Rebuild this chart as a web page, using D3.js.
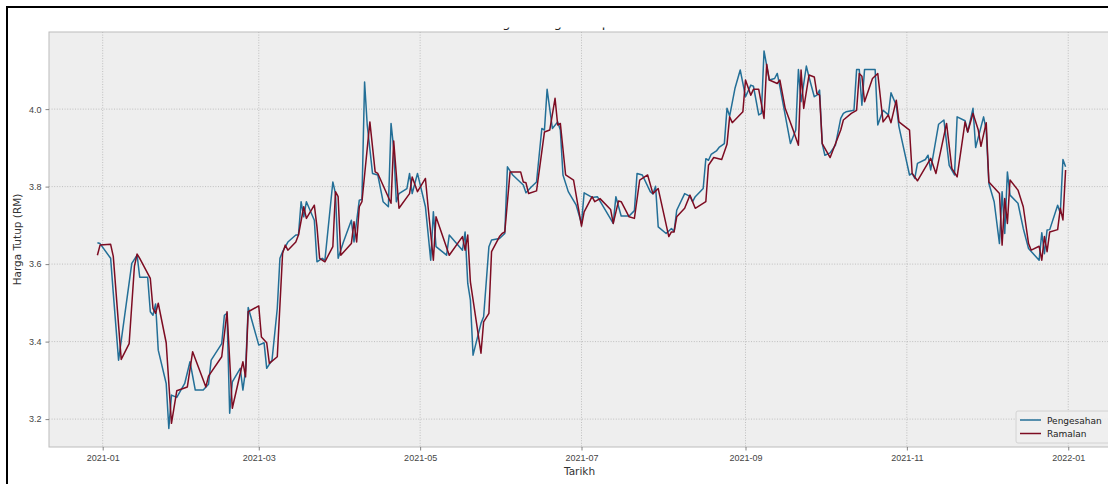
<!DOCTYPE html>
<html>
<head>
<meta charset="utf-8">
<script src="https://cdn.jsdelivr.net/npm/d3@7"></script>
<style>
  body { margin: 0; background: #fff; }
  svg { display: block; font-family: "DejaVu Sans", sans-serif; }
  .grid line { stroke: #b2b2b2; stroke-dasharray: 1,1.6; stroke-width: 0.8; }
  .tick text { fill: #444; font-size: 9px; }
</style>
</head>
<body>
<svg width="1108" height="484"></svg>
<script>
// ------------------- DATA -------------------
// day = days after 2021-01-01, value = harga tutup (RM)
var pengesahan = [
  [-2,3.655],[-1,3.653],[3,3.615],[4,3.525],[6,3.352],[11,3.602],[13,3.623],[14,3.566],[17,3.566],[18,3.477],
  [19,3.468],[20,3.497],[21,3.378],[24,3.292],[25,3.176],[26,3.262],[28,3.256],[31,3.292],[33,3.348],[35,3.275],
  [38,3.275],[40,3.290],[41,3.352],[45,3.395],[46,3.468],[47,3.473],[48,3.215],[49,3.296],[52,3.331],[53,3.275],
  [54,3.326],[55,3.488],[56,3.464],[59,3.391],[61,3.397],[62,3.331],[64,3.352],[66,3.486],[67,3.615],[68,3.632],
  [70,3.657],[73,3.675],[74,3.675],[75,3.761],[76,3.722],[77,3.761],[80,3.713],[81,3.606],[83,3.615],[84,3.610],
  [87,3.812],[88,3.782],[89,3.615],[91,3.657],[94,3.713],[95,3.657],[97,3.765],[98,3.767],[99,4.070],[100,3.959],
  [102,3.834],[104,3.830],[106,3.761],[108,3.748],[109,3.963],[110,3.899],[111,3.761],[112,3.782],[115,3.795],[116,3.834],
  [117,3.782],[119,3.834],[122,3.748],[124,3.610],[125,3.735],[126,3.645],[130,3.623],[131,3.675],[136,3.636],[137,3.683],
  [138,3.550],[139,3.507],[140,3.365],[143,3.447],[144,3.464],[146,3.645],[147,3.662],[150,3.666],[152,3.679],[153,3.851],
  [155,3.830],[159,3.804],[160,3.784],[162,3.799],[164,3.812],[166,3.950],[167,3.946],[168,4.051],[170,3.950],[172,3.967],
  [173,3.946],[174,3.830],[176,3.787],[179,3.752],[181,3.705],[182,3.784],[185,3.772],[187,3.774],[193,3.705],[194,3.774],
  [196,3.724],[199,3.724],[201,3.738],[202,3.834],[204,3.830],[207,3.787],[208,3.781],[209,3.801],[210,3.696],[213,3.679],
  [215,3.692],[216,3.684],[217,3.739],[220,3.782],[222,3.775],[223,3.761],[224,3.774],[227,3.795],[228,3.872],[229,3.868],
  [230,3.883],[232,3.892],[233,3.901],[235,3.911],[236,4.002],[237,3.982],[239,4.053],[241,4.101],[243,4.032],[245,4.062],
  [246,4.059],[248,3.985],[249,3.989],[250,4.150],[252,4.075],[254,4.079],[255,4.092],[256,4.058],[260,3.911],[262,3.946],
  [263,4.102],[264,4.019],[266,4.111],[267,4.083],[269,4.032],[270,4.036],[271,4.049],[272,3.911],[273,3.881],[275,3.887],
  [277,3.907],[279,3.976],[280,3.989],[281,3.993],[284,3.997],[285,4.102],[286,4.102],[287,4.010],[288,4.102],[292,4.102],
  [293,3.959],[295,3.997],[297,3.985],[298,4.042],[300,4.010],[301,3.955],[305,3.830],[306,3.834],[307,3.821],[308,3.860],
  [311,3.870],[312,3.881],[313,3.843],[316,3.961],[318,3.972],[320,3.855],[322,3.830],[323,3.980],[326,3.970],[327,3.941],
  [329,4.002],[330,3.901],[333,3.980],[334,3.945],[335,3.808],[337,3.761],[339,3.653],[340,3.787],[341,3.679],[342,3.838],
  [343,3.778],[346,3.757],[348,3.692],[350,3.640],[354,3.610],[355,3.681],[356,3.627],[357,3.688],[358,3.689],[361,3.752],
  [362,3.731],[363,3.870],[364,3.851]
];

var ramalan = [
  [-2,3.623],[-1,3.649],[3,3.651],[4,3.620],[7,3.354],[10,3.395],[12,3.595],[13,3.626],[14,3.615],[18,3.563],
  [19,3.486],[20,3.473],[21,3.499],[24,3.397],[26,3.189],[28,3.273],[32,3.283],[34,3.374],[39,3.283],[40,3.311],
  [45,3.361],[47,3.477],[49,3.228],[53,3.348],[54,3.309],[55,3.477],[59,3.492],[60,3.412],[62,3.397],[63,3.344],
  [66,3.361],[68,3.627],[69,3.649],[70,3.636],[73,3.657],[74,3.675],[76,3.748],[77,3.718],[80,3.752],[81,3.696],
  [82,3.615],[84,3.606],[87,3.645],[88,3.787],[89,3.774],[90,3.623],[94,3.653],[95,3.709],[96,3.657],[97,3.748],
  [98,3.761],[101,3.967],[103,3.838],[104,3.834],[109,3.757],[110,3.918],[112,3.744],[116,3.782],[117,3.825],[119,3.787],
  [122,3.821],[123,3.748],[125,3.610],[126,3.722],[131,3.623],[136,3.671],[137,3.636],[138,3.675],[139,3.554],[143,3.370],
  [144,3.451],[146,3.473],[147,3.632],[150,3.671],[151,3.679],[152,3.683],[154,3.838],[158,3.838],[159,3.812],[160,3.810],
  [161,3.782],[164,3.789],[167,3.941],[169,3.946],[171,4.028],[172,3.959],[173,3.963],[175,3.830],[178,3.817],[181,3.698],
  [182,3.735],[185,3.774],[186,3.761],[188,3.769],[192,3.741],[193,3.705],[195,3.763],[196,3.761],[199,3.722],[201,3.718],
  [203,3.817],[206,3.830],[208,3.782],[210,3.795],[214,3.671],[215,3.683],[216,3.683],[217,3.722],[220,3.744],[222,3.778],
  [224,3.744],[228,3.761],[229,3.855],[231,3.875],[234,3.870],[236,3.909],[237,3.980],[238,3.965],[242,3.993],[243,4.075],
  [245,4.036],[246,4.051],[248,4.051],[250,3.976],[251,4.116],[252,4.075],[255,4.066],[256,4.075],[258,4.002],[261,3.946],
  [263,3.907],[264,4.101],[265,4.002],[267,4.088],[269,4.083],[270,4.040],[271,4.036],[272,3.911],[275,3.875],[279,3.946],
  [280,3.972],[283,3.989],[285,3.997],[286,4.092],[287,4.085],[288,4.019],[291,4.079],[293,4.092],[295,3.967],[297,3.985],
  [298,3.965],[300,4.023],[301,3.967],[305,3.946],[306,3.834],[308,3.815],[313,3.873],[315,3.834],[319,3.963],[321,3.847],
  [323,3.825],[326,3.967],[327,3.941],[329,3.989],[331,3.946],[332,3.904],[334,3.965],[335,3.812],[339,3.782],[340,3.649],
  [341,3.769],[342,3.705],[343,3.817],[346,3.791],[348,3.748],[350,3.653],[351,3.636],[354,3.646],[355,3.610],[356,3.671],
  [357,3.632],[358,3.683],[361,3.689],[362,3.744],[363,3.714],[364,3.843]
];

var yTicks = [3.2, 3.4, 3.6, 3.8, 4.0];
var seriesNames = ["Pengesahan", "Ramalan"];
var seriesColors = ["#236f97", "#7d0c22"];
// ------------------- END DATA -------------------

var svg = d3.select("svg"),
  width = +svg.attr("width"),
  height = +svg.attr("height");

// plot box (right edge runs past the picture, like the reference)
var plotL = 49, plotT = 32, plotR = 1114, plotB = 447;

var start = new Date(2021, 0, 1);
function toDate(day) { return new Date(start.getTime() + day * 864e5); }

var x = d3.scaleTime()
  .domain([toDate(-20.3), toDate(382.3)])
  .range([plotL, plotR]);

var y = d3.scaleLinear()
  .domain([3.128, 4.199])
  .range([plotB, plotT]);

// outer frame
svg.append("rect")
  .attr("x", 7).attr("y", 7)
  .attr("width", width + 20).attr("height", height + 20)
  .attr("fill", "#fff")
  .attr("stroke", "#000")
  .attr("stroke-width", 2);

// title, mostly hidden above the plot like in the original crop
svg.append("clipPath").attr("id", "titleclip")
  .append("rect").attr("x", 0).attr("y", 27.6).attr("width", width).attr("height", 5);
svg.append("text")
  .attr("clip-path", "url(#titleclip)")
  .attr("x", (plotL + plotR) / 2)
  .attr("y", 26.5)
  .attr("text-anchor", "middle")
  .style("font-size", "13px")
  .attr("fill", "#222")
  .text("Graf Perbandingan Harga Tutup Sebenar dan Ramalan");

// plot background
svg.append("rect")
  .attr("x", plotL).attr("y", plotT)
  .attr("width", plotR - plotL).attr("height", plotB - plotT)
  .attr("fill", "#eeeeee")
  .attr("stroke", "#bcbcbc")
  .attr("stroke-width", 1);

var xTicks = d3.timeMonth.every(2).range(new Date(2021, 0, 1), new Date(2022, 0, 2));

// grid
var grid = svg.append("g").attr("class", "grid");
grid.selectAll(".gx")
  .data(xTicks)
  .enter().append("line")
  .attr("x1", function(d) { return x(d); })
  .attr("x2", function(d) { return x(d); })
  .attr("y1", plotT).attr("y2", plotB);
grid.selectAll(".gy")
  .data(yTicks)
  .enter().append("line")
  .attr("x1", plotL).attr("x2", plotR)
  .attr("y1", function(d) { return y(d); })
  .attr("y2", function(d) { return y(d); });

// axes
var xAxis = svg.append("g")
  .attr("transform", "translate(0," + plotB + ")")
  .call(d3.axisBottom(x).tickValues(xTicks).tickFormat(d3.timeFormat("%Y-%m")).tickSize(3.5).tickPadding(4));
var yAxis = svg.append("g")
  .attr("transform", "translate(" + plotL + ",0)")
  .call(d3.axisLeft(y).tickValues(yTicks).tickFormat(d3.format(".1f")).tickSize(3.5).tickPadding(4));

[xAxis, yAxis].forEach(function(ax) {
  ax.select(".domain").remove();
  ax.selectAll(".tick line").attr("stroke", "#666").attr("stroke-width", 0.8);
});

// axis labels
svg.append("text")
  .attr("x", (plotL + plotR) / 2 - 2)
  .attr("y", 475)
  .attr("text-anchor", "middle")
  .style("font-size", "10.5px")
  .attr("fill", "#333")
  .text("Tarikh");

svg.append("text")
  .attr("transform", "translate(21," + ((plotT + plotB) / 2) + ") rotate(-90)")
  .attr("text-anchor", "middle")
  .style("font-size", "10.5px")
  .attr("fill", "#333")
  .text("Harga Tutup (RM)");

// lines
var line = d3.line()
  .x(function(d) { return x(toDate(d[0])); })
  .y(function(d) { return y(d[1]); });

svg.append("clipPath").attr("id", "plotclip")
  .append("rect").attr("x", plotL).attr("y", plotT).attr("width", plotR - plotL).attr("height", plotB - plotT);

var plot = svg.append("g").attr("clip-path", "url(#plotclip)");
[pengesahan, ramalan].forEach(function(series, i) {
  plot.append("path")
    .datum(series)
    .attr("fill", "none")
    .attr("stroke", seriesColors[i])
    .attr("stroke-width", 1.5)
    .attr("stroke-linejoin", "round")
    .attr("d", line);
});

// legend
var legend = svg.append("g").attr("transform", "translate(1016,411)");
legend.append("rect")
  .attr("width", 100).attr("height", 32)
  .attr("rx", 2)
  .attr("fill", "#eeeeee")
  .attr("fill-opacity", 0.85)
  .attr("stroke", "#cccccc")
  .attr("stroke-width", 0.8);

var items = legend.selectAll(".item")
  .data(seriesNames)
  .enter().append("g")
  .attr("transform", function(d, i) { return "translate(0," + (9 + i * 13.5) + ")"; });
items.append("line")
  .attr("x1", 4).attr("x2", 25)
  .attr("stroke", function(d, i) { return seriesColors[i]; })
  .attr("stroke-width", 1.5);
items.append("text")
  .attr("x", 31).attr("y", 3.5)
  .style("font-size", "9px")
  .attr("fill", "#222")
  .text(function(d) { return d; });
</script>
</body>
</html>
